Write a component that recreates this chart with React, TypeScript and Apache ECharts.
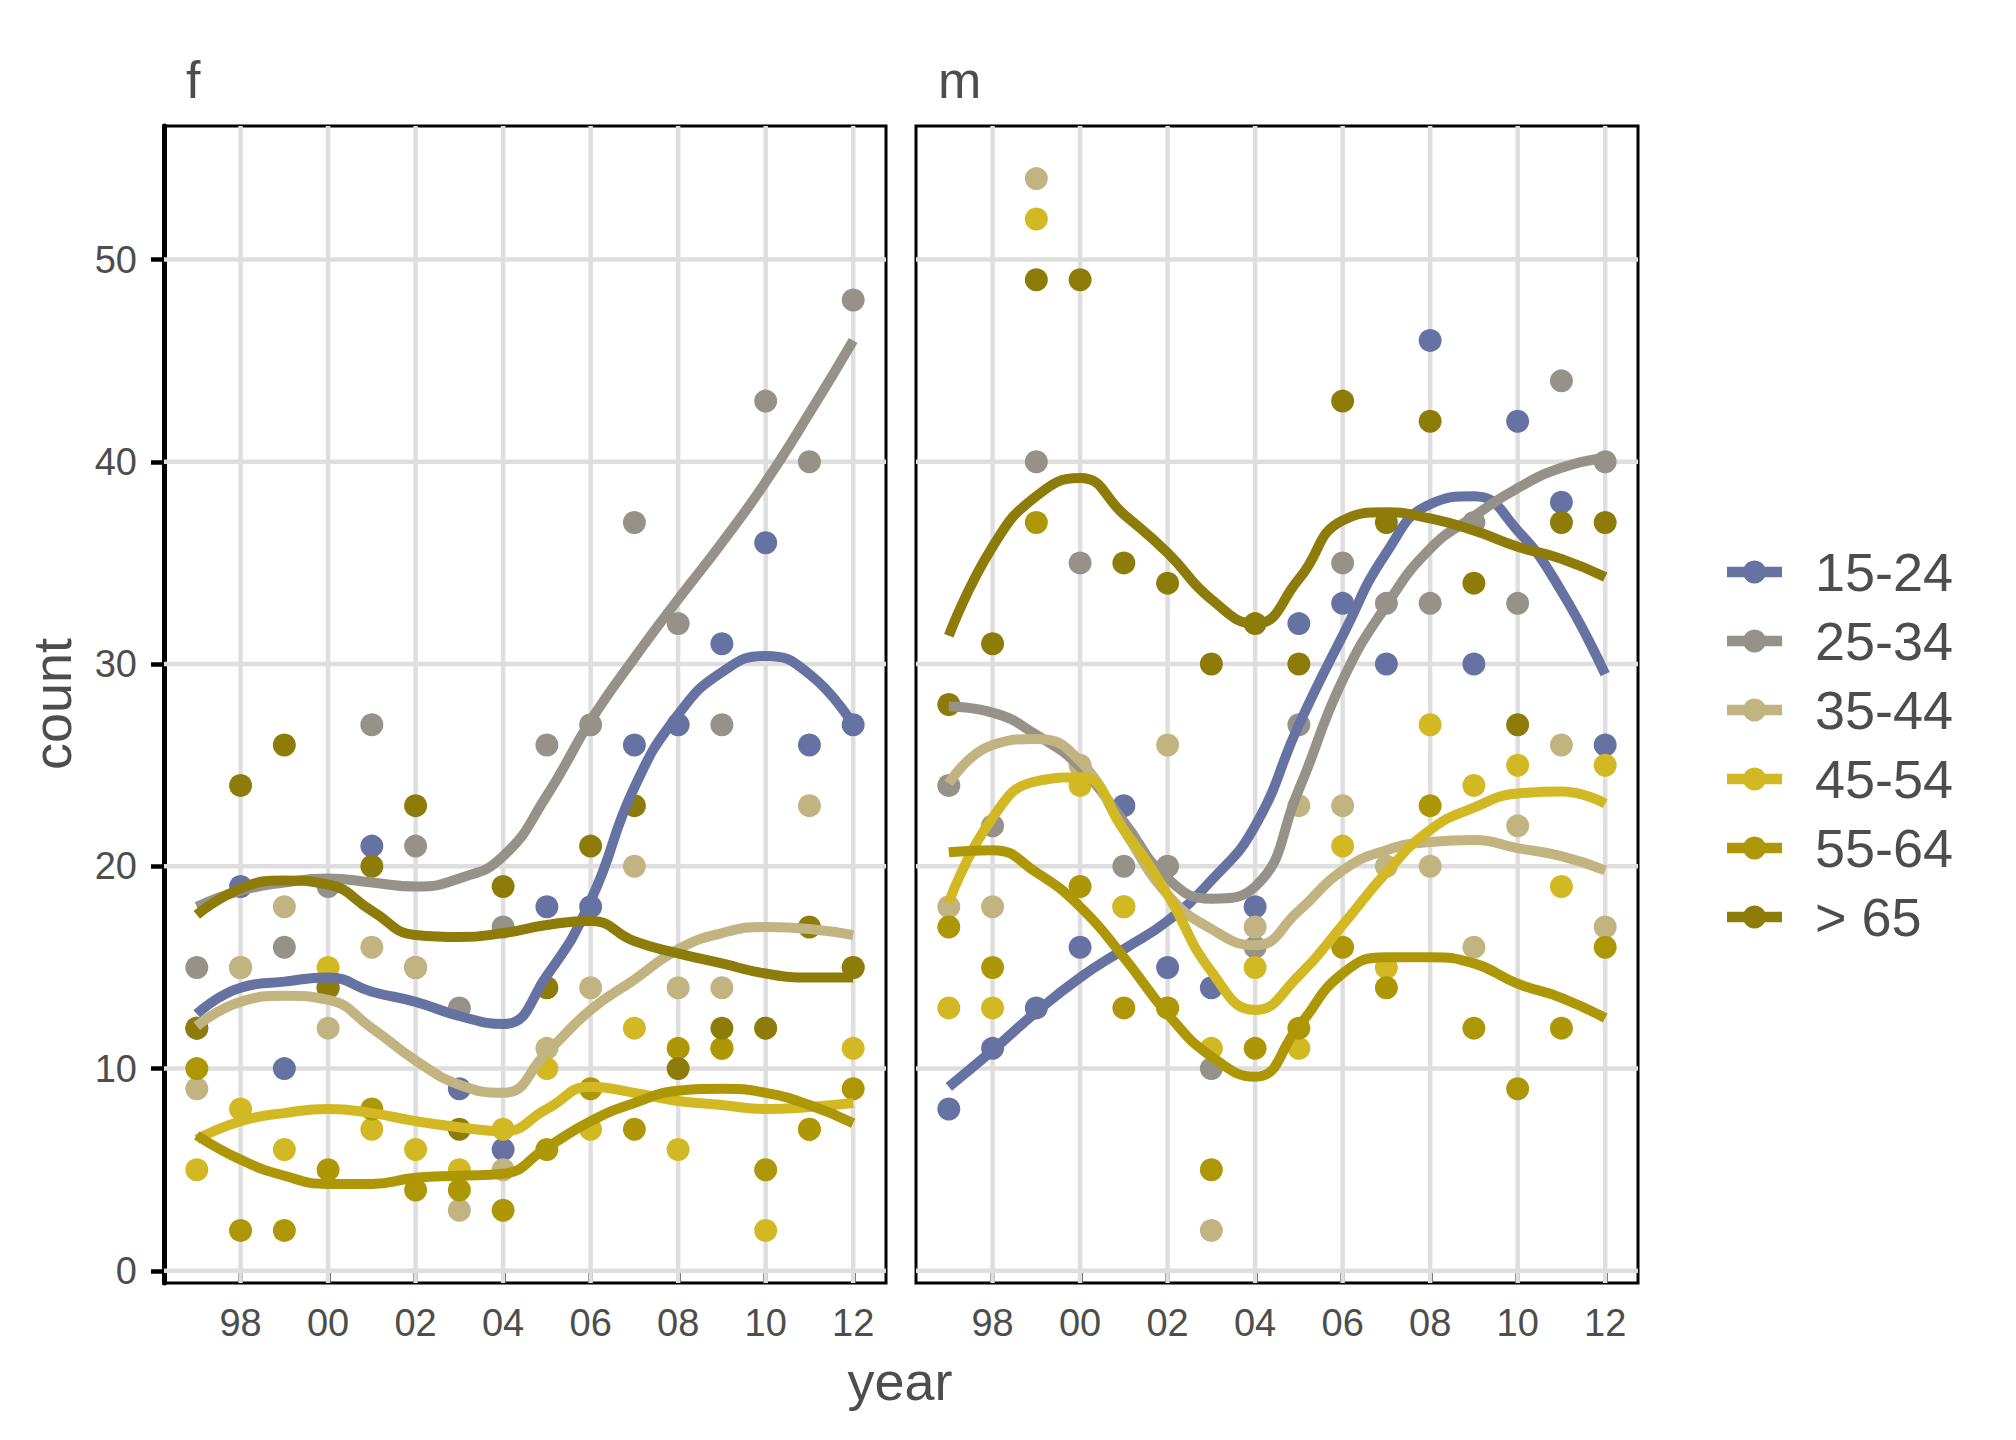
import React, { useEffect, useRef } from "react";
import * as echarts from "echarts";

// ---------- data ----------
const YEARS = [1997, 1998, 1999, 2000, 2001, 2002, 2003, 2004, 2005, 2006, 2007, 2008, 2009, 2010, 2011, 2012];
const AGE_GROUPS = ["15-24", "25-34", "35-44", "45-54", "55-64", "> 65"];
const PANELS = ["f", "m"];
const X_TICK_YEARS = [1998, 2000, 2002, 2004, 2006, 2008, 2010, 2012];
const X_TICK_LABELS = ["98", "00", "02", "04", "06", "08", "10", "12"];
const Y_TICKS = [0, 10, 20, 30, 40, 50];
const Y_TICK_LABELS = ["0", "10", "20", "30", "40", "50"];
const X_LIMITS = [1996.25, 2012.75];
const Y_LIMITS = [-0.6, 56.6];

// observed counts, panel f
const F_15_24 = [12, 19, 10, 14, 21, 15, 9, 6, 18, 18, 26, 27, 31, 36, 26, 27];
const F_25_34 = [15, 15, 16, 19, 27, 21, 13, 17, 26, 27, 37, 32, 27, 43, 40, 48];
const F_35_44 = [9, 15, 18, 12, 16, 15, 3, 5, 11, 14, 20, 14, 14, 12, 23, 15];
const F_45_54 = [5, 8, 6, 15, 7, 6, 5, 7, 10, 7, 12, 6, 11, 2, 7, 11];
const F_55_64 = [10, 2, 2, 5, 8, 4, 4, 3, 6, 9, 7, 11, 11, 5, 7, 9];
const F_65 = [12, 24, 26, 14, 20, 23, 7, 19, 14, 21, 23, 10, 12, 12, 17, 15];

// observed counts, panel m
const M_15_24 = [8, 11, 13, 16, 23, 15, 14, 18, 32, 33, 30, 46, 30, 42, 38, 26];
const M_25_34 = [24, 22, 40, 35, 20, 20, 10, 16, 27, 35, 33, 33, 37, 33, 44, 40];
const M_35_44 = [18, 18, 54, 25, 18, 26, 2, 17, 23, 23, 20, 20, 16, 22, 26, 17];
const M_45_54 = [13, 13, 52, 24, 18, 13, 11, 15, 11, 21, 15, 27, 24, 25, 19, 25];
const M_55_64 = [17, 15, 37, 19, 13, 13, 5, 11, 12, 16, 14, 23, 12, 9, 12, 16];
const M_65 = [28, 31, 49, 49, 35, 34, 30, 32, 30, 43, 37, 42, 34, 27, 37, 37];

// smoothed curves, panel f
const SF_15_24 = [12.7, 14.0, 14.3, 14.5, 13.8, 13.3, 12.6, 12.2, 14.6, 18.3, 23.9, 27.5, 29.6, 30.4, 29.5, 27.0];
const SF_25_34 = [18.0, 18.8, 19.2, 19.4, 19.2, 19.0, 19.4, 20.5, 23.5, 27.2, 30.3, 33.2, 36.0, 39.0, 42.4, 46.0];
const SF_35_44 = [12.1, 13.3, 13.6, 13.4, 12.0, 10.4, 9.2, 8.8, 10.8, 12.9, 14.4, 15.9, 16.7, 17.0, 16.9, 16.6];
const SF_45_54 = [6.5, 7.4, 7.8, 8.0, 7.8, 7.4, 7.1, 6.9, 8.0, 9.1, 8.8, 8.4, 8.2, 8.0, 8.1, 8.3];
const SF_55_64 = [6.7, 5.5, 4.7, 4.3, 4.3, 4.6, 4.7, 4.8, 6.1, 7.4, 8.3, 8.9, 9.0, 8.8, 8.2, 7.3];
const SF_65 = [17.6, 18.9, 19.3, 19.1, 17.8, 16.6, 16.5, 16.7, 17.1, 17.3, 16.3, 15.7, 15.2, 14.7, 14.5, 14.5];

// smoothed curves, panel m
const SM_15_24 = [9.1, 10.9, 12.8, 14.5, 15.9, 17.3, 19.3, 22.0, 27.0, 31.4, 35.5, 37.9, 38.3, 36.6, 33.6, 29.5];
const SM_25_34 = [27.9, 27.6, 26.5, 24.9, 22.2, 19.4, 18.4, 19.0, 23.8, 29.2, 32.9, 35.7, 37.3, 38.7, 39.7, 40.2];
const SM_35_44 = [24.1, 26.0, 26.3, 25.2, 21.8, 18.6, 16.9, 16.1, 17.8, 19.8, 20.8, 21.2, 21.3, 20.9, 20.5, 19.8];
const SM_45_54 = [18.2, 22.4, 24.2, 24.4, 21.8, 18.6, 14.8, 12.9, 14.6, 17.1, 19.7, 21.8, 22.9, 23.6, 23.7, 23.1];
const SM_55_64 = [20.7, 20.8, 19.7, 18.0, 15.5, 12.7, 10.6, 9.6, 12.1, 14.7, 15.5, 15.5, 15.2, 14.2, 13.5, 12.5];
const SM_65 = [31.4, 35.8, 38.3, 39.2, 37.4, 35.5, 33.2, 32.0, 34.2, 37.1, 37.5, 37.2, 36.6, 35.8, 35.2, 34.3];

const COUNTS = [
  [F_15_24, F_25_34, F_35_44, F_45_54, F_55_64, F_65],
  [M_15_24, M_25_34, M_35_44, M_45_54, M_55_64, M_65],
];
const SMOOTH = [
  [SF_15_24, SF_25_34, SF_35_44, SF_45_54, SF_55_64, SF_65],
  [SM_15_24, SM_25_34, SM_35_44, SM_45_54, SM_55_64, SM_65],
];

// ---------- styles ----------
const COLORS = ["#6673A2", "#96928A", "#C2B481", "#D2B823", "#AE9707", "#8D7C09"];
const FONT = "'Liberation Sans', Arial, Helvetica, sans-serif";
const TEXT_COLOR = "#4D4D4D";
const GRID_COLOR = "#DEDEDE";
const PANEL_LEFT = [164, 916];
const PANEL_TOP = 126;
const PANEL_W = 722;
const PANEL_H = 1157;

function buildOption() {
  const grids = PANELS.map((_, p) => ({
    left: PANEL_LEFT[p],
    top: PANEL_TOP,
    width: PANEL_W,
    height: PANEL_H,
    show: true,
    borderColor: "#000",
    borderWidth: 3,
    backgroundColor: "transparent",
    containLabel: false,
  }));

  const xAxes = PANELS.map((_, p) => ({
    type: "value",
    gridIndex: p,
    min: X_LIMITS[0],
    max: X_LIMITS[1],
    axisLine: { show: false },
    splitLine: { show: false },
    axisTick: {
      show: true,
      customValues: X_TICK_YEARS,
      length: 13,
      lineStyle: { color: "#000", width: 4.5 },
    },
    axisLabel: {
      show: true,
      customValues: X_TICK_YEARS,
      formatter: (v: number) => {
        const i = X_TICK_YEARS.indexOf(Math.round(v));
        return i >= 0 ? X_TICK_LABELS[i] : "";
      },
      color: TEXT_COLOR,
      fontSize: 38,
      fontFamily: FONT,
      margin: 21,
    },
  }));

  const yAxes = PANELS.map((_, p) => ({
    type: "value",
    gridIndex: p,
    min: Y_LIMITS[0],
    max: Y_LIMITS[1],
    axisLine: { show: p === 0, lineStyle: { color: "#000", width: 5 } },
    splitLine: { show: false },
    axisTick: {
      show: p === 0,
      customValues: Y_TICKS,
      length: 13,
      lineStyle: { color: "#000", width: 4.5 },
    },
    axisLabel: {
      show: p === 0,
      customValues: Y_TICKS,
      formatter: (v: number) => {
        const i = Y_TICKS.indexOf(Math.round(v));
        return i >= 0 ? Y_TICK_LABELS[i] : "";
      },
      color: TEXT_COLOR,
      fontSize: 38,
      fontFamily: FONT,
      margin: 27,
    },
  }));

  const series: any[] = [];

  // grid lines drawn as plain line series from the tick arrays
  PANELS.forEach((_, p) => {
    X_TICK_YEARS.forEach((x) => {
      series.push({
        type: "line",
        xAxisIndex: p,
        yAxisIndex: p,
        data: [[x, Y_LIMITS[0]], [x, Y_LIMITS[1]]],
        showSymbol: false,
        silent: true,
        z: 1,
        lineStyle: { color: GRID_COLOR, width: 4.5 },
      });
    });
    Y_TICKS.forEach((y) => {
      series.push({
        type: "line",
        xAxisIndex: p,
        yAxisIndex: p,
        data: [[X_LIMITS[0], y], [X_LIMITS[1], y]],
        showSymbol: false,
        silent: true,
        z: 1,
        lineStyle: { color: GRID_COLOR, width: 4.5 },
      });
    });
  });

  // points
  PANELS.forEach((_, p) => {
    AGE_GROUPS.forEach((g, k) => {
      series.push({
        name: g,
        type: "scatter",
        xAxisIndex: p,
        yAxisIndex: p,
        data: YEARS.map((yr, i) => [yr, COUNTS[p][k][i]]),
        symbol: "circle",
        symbolSize: 23,
        silent: true,
        z: 2,
        itemStyle: { color: COLORS[k], opacity: 1 },
      });
    });
  });

  // smooth curves
  PANELS.forEach((_, p) => {
    AGE_GROUPS.forEach((g, k) => {
      series.push({
        name: g,
        type: "line",
        xAxisIndex: p,
        yAxisIndex: p,
        data: YEARS.map((yr, i) => [yr, SMOOTH[p][k][i]]),
        smooth: 0.5,
        showSymbol: false,
        silent: true,
        z: 3,
        lineStyle: { color: COLORS[k], width: 10, cap: "butt" },
      });
    });
  });

  // texts and legend
  const graphics: any[] = [];
  PANELS.forEach((name, p) => {
    graphics.push({
      type: "text",
      x: PANEL_LEFT[p] + 22,
      y: 80,
      style: { text: name, fill: TEXT_COLOR, fontSize: 52, fontFamily: FONT, align: "left", verticalAlign: "middle" },
    });
  });
  graphics.push({
    type: "text",
    x: 900,
    y: 1381,
    style: { text: "year", fill: TEXT_COLOR, fontSize: 54, fontFamily: FONT, align: "center", verticalAlign: "middle" },
  });
  graphics.push({
    type: "text",
    x: 52,
    y: 704,
    rotation: Math.PI / 2,
    style: { text: "count", fill: TEXT_COLOR, fontSize: 54, fontFamily: FONT, align: "center", verticalAlign: "middle" },
  });
  AGE_GROUPS.forEach((g, k) => {
    const yc = 572 + k * 69;
    graphics.push({
      type: "line",
      shape: { x1: 1727, y1: yc, x2: 1782, y2: yc },
      style: { stroke: COLORS[k], lineWidth: 10.5 },
    });
    graphics.push({
      type: "circle",
      shape: { cx: 1754.5, cy: yc, r: 11.5 },
      style: { fill: COLORS[k] },
    });
    graphics.push({
      type: "text",
      x: 1815,
      y: yc,
      style: { text: g, fill: TEXT_COLOR, fontSize: 54, fontFamily: FONT, align: "left", verticalAlign: "middle" },
    });
  });

  return {
    animation: false,
    backgroundColor: "#FFFFFF",
    textStyle: { fontFamily: FONT },
    grid: grids,
    xAxis: xAxes,
    yAxis: yAxes,
    series,
    graphic: graphics,
  };
}

export default function App() {
  const ref = useRef<HTMLDivElement>(null);
  useEffect(() => {
    document.body.style.margin = "0";
    if (!ref.current) return;
    const chart = echarts.init(ref.current, undefined, { renderer: "svg" });
    chart.setOption(buildOption() as any);
    return () => chart.dispose();
  }, []);
  return <div ref={ref} style={{ width: 2016, height: 1440, background: "#fff" }} />;
}
